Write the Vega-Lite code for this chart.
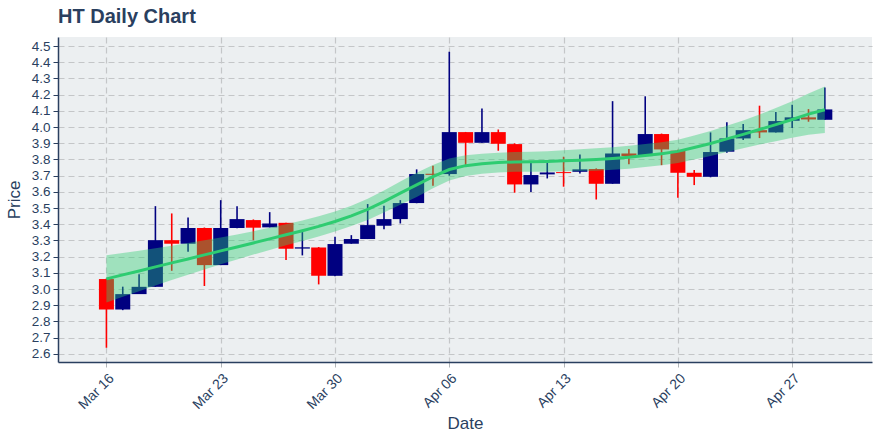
{
  "$schema": "https://vega.github.io/schema/vega-lite/v6.json",
  "width": 814,
  "height": 325,
  "autosize": {"type": "none"},
  "padding": {"left": 58, "top": 37, "right": 8, "bottom": 78},
  "background": "white",
  "config": {"font": "Liberation Sans", "view": {"fill": "#ECEFF1", "stroke": null},
    "axisY": {
      "title": "Price", "titleFontSize": 17, "titleFontWeight": "normal", "titleColor": "#2a3f5f", "titlePadding": 8,
      "format": ".1f", "labelFontSize": 13.5, "labelColor": "#2a3f5f", "labelPadding": 3, "labelOverlap": false,
      "grid": true, "gridDash": [6, 4], "gridColor": "#c4c6c8", "gridWidth": 1.2,
      "domainColor": "#2a3f5f", "domainWidth": 1.5, "tickColor": "#2a3f5f", "tickSize": 5
    }
  },
  "title": {"text": "HT Daily Chart", "anchor": "start", "frame": "group", "fontSize": 20, "fontWeight": "bold", "color": "#2a3f5f", "baseline": "alphabetic", "offset": -6},
  "data": {"values": [
    {"date": "2020-03-16", "open": 3.062, "high": 3.065, "low": 2.638, "close": 2.874, "fit": 3.063, "lo": 2.917, "hi": 3.209},
    {"date": "2020-03-17", "open": 2.874, "high": 3.015, "low": 2.870, "close": 2.969, "fit": 3.088, "lo": 2.953, "hi": 3.223},
    {"date": "2020-03-18", "open": 2.969, "high": 3.091, "low": 2.969, "close": 3.014, "fit": 3.112, "lo": 2.987, "hi": 3.237},
    {"date": "2020-03-19", "open": 3.014, "high": 3.512, "low": 3.014, "close": 3.302, "fit": 3.137, "lo": 3.022, "hi": 3.252},
    {"date": "2020-03-20", "open": 3.302, "high": 3.467, "low": 3.113, "close": 3.280, "fit": 3.162, "lo": 3.056, "hi": 3.268},
    {"date": "2020-03-21", "open": 3.280, "high": 3.442, "low": 3.230, "close": 3.377, "fit": 3.186, "lo": 3.088, "hi": 3.284},
    {"date": "2020-03-22", "open": 3.377, "high": 3.380, "low": 3.019, "close": 3.148, "fit": 3.211, "lo": 3.121, "hi": 3.301},
    {"date": "2020-03-23", "open": 3.148, "high": 3.549, "low": 3.148, "close": 3.377, "fit": 3.236, "lo": 3.153, "hi": 3.319},
    {"date": "2020-03-24", "open": 3.377, "high": 3.512, "low": 3.375, "close": 3.432, "fit": 3.260, "lo": 3.183, "hi": 3.337},
    {"date": "2020-03-25", "open": 3.426, "high": 3.430, "low": 3.302, "close": 3.379, "fit": 3.285, "lo": 3.213, "hi": 3.357},
    {"date": "2020-03-26", "open": 3.381, "high": 3.475, "low": 3.381, "close": 3.405, "fit": 3.310, "lo": 3.242, "hi": 3.378},
    {"date": "2020-03-27", "open": 3.409, "high": 3.410, "low": 3.179, "close": 3.249, "fit": 3.335, "lo": 3.270, "hi": 3.400},
    {"date": "2020-03-28", "open": 3.250, "high": 3.354, "low": 3.208, "close": 3.258, "fit": 3.360, "lo": 3.297, "hi": 3.423},
    {"date": "2020-03-29", "open": 3.257, "high": 3.260, "low": 3.029, "close": 3.082, "fit": 3.387, "lo": 3.325, "hi": 3.449},
    {"date": "2020-03-30", "open": 3.082, "high": 3.323, "low": 3.080, "close": 3.278, "fit": 3.417, "lo": 3.355, "hi": 3.479},
    {"date": "2020-03-31", "open": 3.280, "high": 3.333, "low": 3.280, "close": 3.309, "fit": 3.452, "lo": 3.389, "hi": 3.515},
    {"date": "2020-04-01", "open": 3.309, "high": 3.525, "low": 3.309, "close": 3.395, "fit": 3.492, "lo": 3.427, "hi": 3.557},
    {"date": "2020-04-02", "open": 3.391, "high": 3.514, "low": 3.370, "close": 3.432, "fit": 3.540, "lo": 3.472, "hi": 3.608},
    {"date": "2020-04-03", "open": 3.432, "high": 3.549, "low": 3.405, "close": 3.531, "fit": 3.592, "lo": 3.520, "hi": 3.664},
    {"date": "2020-04-04", "open": 3.531, "high": 3.739, "low": 3.530, "close": 3.710, "fit": 3.643, "lo": 3.568, "hi": 3.718},
    {"date": "2020-04-05", "open": 3.712, "high": 3.761, "low": 3.638, "close": 3.705, "fit": 3.694, "lo": 3.622, "hi": 3.766},
    {"date": "2020-04-06", "open": 3.710, "high": 4.465, "low": 3.700, "close": 3.969, "fit": 3.738, "lo": 3.670, "hi": 3.806},
    {"date": "2020-04-07", "open": 3.969, "high": 3.970, "low": 3.755, "close": 3.903, "fit": 3.762, "lo": 3.698, "hi": 3.826},
    {"date": "2020-04-08", "open": 3.903, "high": 4.115, "low": 3.903, "close": 3.969, "fit": 3.774, "lo": 3.712, "hi": 3.836},
    {"date": "2020-04-09", "open": 3.969, "high": 3.985, "low": 3.854, "close": 3.897, "fit": 3.781, "lo": 3.720, "hi": 3.842},
    {"date": "2020-04-10", "open": 3.895, "high": 3.900, "low": 3.595, "close": 3.646, "fit": 3.785, "lo": 3.724, "hi": 3.846},
    {"date": "2020-04-11", "open": 3.646, "high": 3.780, "low": 3.600, "close": 3.704, "fit": 3.786, "lo": 3.724, "hi": 3.848},
    {"date": "2020-04-12", "open": 3.708, "high": 3.780, "low": 3.683, "close": 3.720, "fit": 3.788, "lo": 3.725, "hi": 3.851},
    {"date": "2020-04-13", "open": 3.722, "high": 3.817, "low": 3.632, "close": 3.716, "fit": 3.792, "lo": 3.727, "hi": 3.857},
    {"date": "2020-04-14", "open": 3.724, "high": 3.830, "low": 3.714, "close": 3.739, "fit": 3.796, "lo": 3.729, "hi": 3.863},
    {"date": "2020-04-15", "open": 3.741, "high": 3.745, "low": 3.553, "close": 3.650, "fit": 3.800, "lo": 3.731, "hi": 3.869},
    {"date": "2020-04-16", "open": 3.650, "high": 4.160, "low": 3.650, "close": 3.837, "fit": 3.806, "lo": 3.736, "hi": 3.876},
    {"date": "2020-04-17", "open": 3.837, "high": 3.864, "low": 3.770, "close": 3.821, "fit": 3.814, "lo": 3.743, "hi": 3.885},
    {"date": "2020-04-18", "open": 3.821, "high": 4.190, "low": 3.820, "close": 3.957, "fit": 3.824, "lo": 3.753, "hi": 3.895},
    {"date": "2020-04-19", "open": 3.957, "high": 3.960, "low": 3.765, "close": 3.862, "fit": 3.836, "lo": 3.765, "hi": 3.907},
    {"date": "2020-04-20", "open": 3.854, "high": 3.860, "low": 3.564, "close": 3.718, "fit": 3.850, "lo": 3.778, "hi": 3.922},
    {"date": "2020-04-21", "open": 3.718, "high": 3.735, "low": 3.642, "close": 3.693, "fit": 3.874, "lo": 3.800, "hi": 3.948},
    {"date": "2020-04-22", "open": 3.693, "high": 3.967, "low": 3.690, "close": 3.846, "fit": 3.899, "lo": 3.822, "hi": 3.976},
    {"date": "2020-04-23", "open": 3.848, "high": 4.030, "low": 3.842, "close": 3.930, "fit": 3.927, "lo": 3.846, "hi": 4.008},
    {"date": "2020-04-24", "open": 3.930, "high": 4.019, "low": 3.920, "close": 3.981, "fit": 3.955, "lo": 3.869, "hi": 4.041},
    {"date": "2020-04-25", "open": 3.981, "high": 4.132, "low": 3.932, "close": 3.967, "fit": 3.985, "lo": 3.892, "hi": 4.078},
    {"date": "2020-04-26", "open": 3.967, "high": 4.093, "low": 3.967, "close": 4.037, "fit": 4.015, "lo": 3.913, "hi": 4.117},
    {"date": "2020-04-27", "open": 4.039, "high": 4.138, "low": 3.994, "close": 4.060, "fit": 4.047, "lo": 3.934, "hi": 4.160},
    {"date": "2020-04-28", "open": 4.060, "high": 4.111, "low": 4.033, "close": 4.047, "fit": 4.080, "lo": 3.953, "hi": 4.207},
    {"date": "2020-04-29", "open": 4.045, "high": 4.245, "low": 4.045, "close": 4.109, "fit": 4.107, "lo": 3.964, "hi": 4.250}
  ]},
  "encoding": {
    "x": {
      "field": "date", "type": "temporal",
      "scale": {"type": "utc", "domain": [
        {"year": 2020, "month": 3, "date": 13, "hours": 8, "minutes": 10, "utc": true},
        {"year": 2020, "month": 5, "date": 1, "hours": 14, "utc": true}
      ]},
      "axis": {
        "title": "Date", "titleFontSize": 17, "titleFontWeight": "normal", "titleColor": "#2a3f5f", "titlePadding": 4,
        "labelExpr": "utcFormat(datum.value, '%b %d')", "labelAngle": -45, "labelFontSize": 14, "labelColor": "#2a3f5f", "labelPadding": 4, "labelOverlap": false,
        "values": [
          {"year": 2020, "month": 3, "date": 16, "utc": true},
          {"year": 2020, "month": 3, "date": 23, "utc": true},
          {"year": 2020, "month": 3, "date": 30, "utc": true},
          {"year": 2020, "month": 4, "date": 6, "utc": true},
          {"year": 2020, "month": 4, "date": 13, "utc": true},
          {"year": 2020, "month": 4, "date": 20, "utc": true},
          {"year": 2020, "month": 4, "date": 27, "utc": true}
        ],
        "grid": true, "gridDash": [6, 4], "gridColor": "#c4c6c8", "gridWidth": 1.2,
        "domainColor": "#2a3f5f", "domainWidth": 1.5, "tickColor": "#b0b4b8", "tickSize": 5
      }
    }
  },
  "layer": [
    {
      "mark": {"type": "rule", "strokeWidth": 1.6},
      "encoding": {
        "y": {"field": "low", "type": "quantitative", "scale": {"domain": [2.55, 4.556], "nice": false, "zero": false},
          "axis": {"title": "Price", "values": [2.6, 2.7, 2.8, 2.9, 3.0, 3.1, 3.2, 3.3, 3.4, 3.5, 3.6, 3.7, 3.8, 3.9, 4.0, 4.1, 4.2, 4.3, 4.4, 4.5]}},
        "y2": {"field": "high"},
        "color": {"condition": {"test": "datum.close >= datum.open", "value": "#000080"}, "value": "#ff0000"}
      }
    },
    {
      "mark": {"type": "bar", "width": 15},
      "encoding": {
        "y": {"field": "open", "type": "quantitative",
          "axis": {"title": "Price", "values": [2.6, 2.7, 2.8, 2.9, 3.0, 3.1, 3.2, 3.3, 3.4, 3.5, 3.6, 3.7, 3.8, 3.9, 4.0, 4.1, 4.2, 4.3, 4.4, 4.5]}},
        "y2": {"field": "close"},
        "color": {"condition": {"test": "datum.close >= datum.open", "value": "#000080"}, "value": "#ff0000"}
      }
    },
    {
      "mark": {"type": "area", "color": "#2ecc71", "opacity": 0.4},
      "encoding": {
        "y": {"field": "lo", "type": "quantitative",
          "axis": {"title": "Price", "values": [2.6, 2.7, 2.8, 2.9, 3.0, 3.1, 3.2, 3.3, 3.4, 3.5, 3.6, 3.7, 3.8, 3.9, 4.0, 4.1, 4.2, 4.3, 4.4, 4.5]}},
        "y2": {"field": "hi"}
      }
    },
    {
      "mark": {"type": "line", "color": "#2ecc71", "strokeWidth": 3},
      "encoding": {
        "y": {"field": "fit", "type": "quantitative",
          "axis": {"title": "Price", "values": [2.6, 2.7, 2.8, 2.9, 3.0, 3.1, 3.2, 3.3, 3.4, 3.5, 3.6, 3.7, 3.8, 3.9, 4.0, 4.1, 4.2, 4.3, 4.4, 4.5]}}
      }
    }
  ]
}
